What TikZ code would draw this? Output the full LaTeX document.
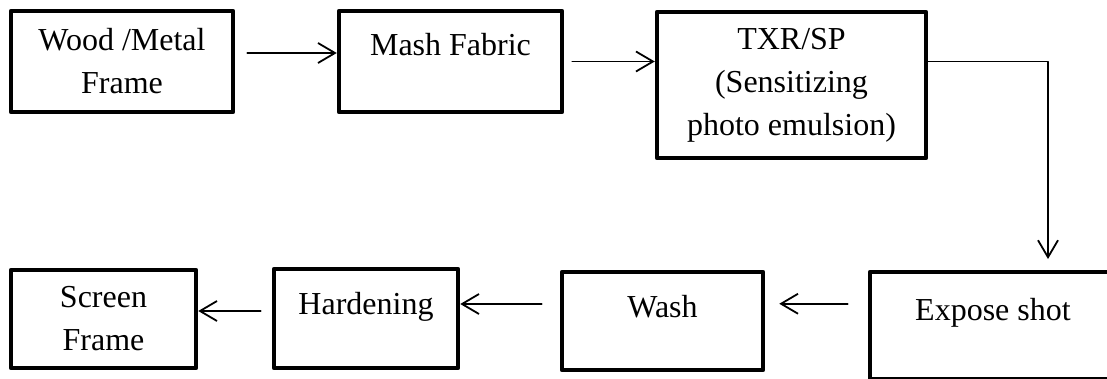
\documentclass[tikz,border=0pt]{standalone}
\usepackage{fontspec}
\setmainfont{Liberation Serif}
\usetikzlibrary{arrows.meta}
\tikzset{
    procbox/.style = {draw, rectangle, line width=4.5pt, align=center,
        font=\fontsize{32}{43}\selectfont},
    flow/.style = {line width=1.8pt, -{Straight Barb[length=17pt,width=20pt]}}
}

\begin{document}
\begin{tikzpicture}[line cap=round,line join=round,x=1pt,y=-1pt]
    \useasboundingbox (0,0) rectangle (1107,378);
    \clip (0,0) rectangle (1107,378);

    % upper row
    \node[procbox, minimum width=222pt, minimum height=101pt] (wood) at (122,61.5) {Wood /Metal\\Frame};
    \node[procbox, minimum width=223pt, minimum height=101pt, text depth=35pt] (mash) at (450.5,61.5) {Mash Fabric};
    \node[procbox, minimum width=269pt, minimum height=146pt] (txr) at (791.5,85) {TXR/SP\\(Sensitizing\\photo emulsion)};

    % lower row, the exposure box runs off the page
    \node[procbox, minimum width=246pt, minimum height=107.5pt, text depth=33.5pt] (expose) at (993,325.75) {Expose shot};
    \node[procbox, minimum width=201pt, minimum height=98pt, text depth=30pt] (wash) at (662.5,321) {Wash};
    \node[procbox, minimum width=184pt, minimum height=99pt, text depth=30pt] (hard) at (366,318.5) {Hardening};
    \node[procbox, minimum width=185pt, minimum height=98pt] (screen) at (103.5,319) {Screen\\Frame};

    \coordinate (drop) at (1048,259);

    \draw[flow, shorten <=12pt] ([yshift=8.5pt]wood.east) -- ([yshift=8.5pt]mash.west);
    \draw[flow, shorten <=8pt] (mash.east) -- (mash.east -| txr.west);
    \draw[flow] (txr.east |- mash.east) -| (drop);
    \draw[flow, shorten <=20pt, shorten >=14pt] ([yshift=22pt]expose.west) -- ([yshift=22pt]expose.west -| wash.east);
    \draw[flow, shorten <=18pt] ([yshift=17pt]wash.west) -- ([yshift=17pt]wash.west -| hard.east);
    \draw[flow, shorten <=11pt] ([yshift=7.5pt]hard.west) -- ([yshift=7.5pt]hard.west -| screen.east);
\end{tikzpicture}
\end{document}
